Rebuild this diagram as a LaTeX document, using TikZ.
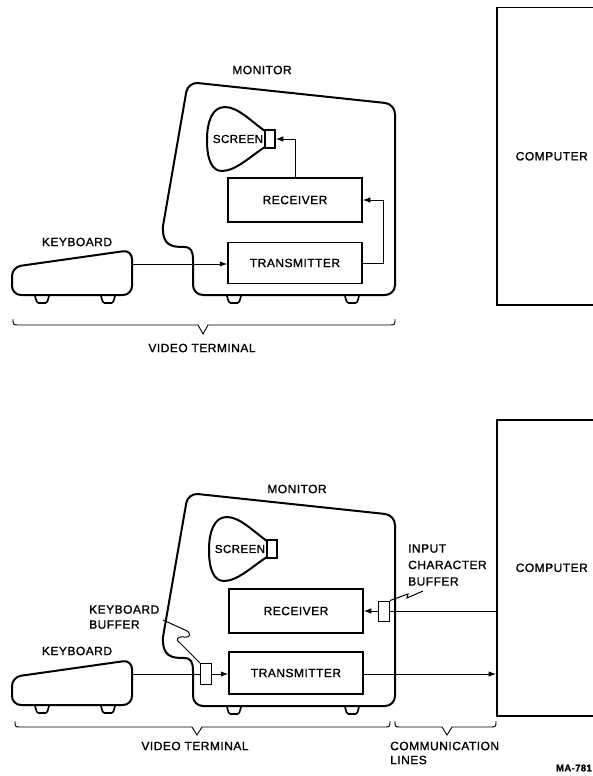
\documentclass[tikz,border=0pt]{standalone}
\usepackage{fontspec}
\setmainfont{Liberation Sans}[LetterSpace=4, FakeBold=1.2]
\usetikzlibrary{arrows.meta}
\newcommand{\captionsize}{\fontsize{12}{15}\selectfont}
\tikzset{
    body-line/.style = {line width=2pt, line join=round, line cap=round},
    unit-box/.style = {draw, line width=1.5pt, minimum width=134pt, minimum height=44pt, inner sep=0pt, font=\captionsize},
    neck-box/.style = {draw, line width=1.5pt, minimum width=10pt, minimum height=18pt, inner sep=0pt},
    buffer-box/.style = {draw, line width=1pt, minimum width=11pt, minimum height=21pt, inner sep=0pt},
    host-box/.style = {draw, line width=1.5pt, minimum width=110pt, minimum height=297pt, inner sep=0pt, font=\captionsize},
    link/.style = {line width=1pt},
    feed/.style = {link, -{Latex[length=7.5pt,width=5.5pt]}},
    caption/.style = {font=\captionsize, inner sep=0pt, align=left},
    brace-line/.style = {line width=0.9pt},
    pics/foot/.style = {code={\draw[line width=1.6pt, rounded corners=1.5pt] (-7,0) -- (-5,7) -- (5,7) -- (7,0);}},
    pics/keyboard/.style = {code={
        \draw[body-line, rounded corners=9pt] (12,295) -- (132,295) -- (132,250) -- (12,267) -- cycle;
        \pic at (42,296) {foot};
        \pic at (108,296) {foot};
    }},
    pics/monitor/.style = {code={
        \draw[body-line] (163,226) .. controls (162,246) and (172,247) .. (184,247)
            .. controls (191,247) and (193,251) .. (193,260)
            [rounded corners=10pt] -- (193,295) -- (395,295) -- (395,104) -- (188,82) -- (163,226);
        \pic at (234,296) {foot};
        \pic at (352,296) {foot};
    }},
    pics/crt/.style = {code={
        \draw[body-line] (265,131) .. controls (252,122) and (238,107) .. (225,107)
            .. controls (212,107) and (207,122) .. (207,140)
            .. controls (207,160) and (212,171) .. (222,171)
            .. controls (236,171) and (252,155) .. (265,147);
        \node[neck-box] (-neck) at (270,139) {};
        \node[caption, font=\fontsize{11.5}{14}\selectfont] at (238,139) {SCREEN};
    }},
}

\begin{document}
\begin{tikzpicture}[x=1pt, y=-1pt]
\useasboundingbox (0,0) rectangle (593,776);

% upper panel: terminal on its own
\pic at (0,0) {keyboard};
\pic at (0,0) {monitor};
\pic (top) at (0,0) {crt};
\node[unit-box] (top-receiver) at (295,200) {RECEIVER};
\node[unit-box, minimum height=41pt] (top-transmitter) at (295,263) {TRANSMITTER};
\node[host-box, anchor=north west] (top-computer) at (496,7) {COMPUTER};
\coordinate (top-cable) at (132,264);
\node[caption] (top-monitor-label) at (262,70) {MONITOR};
\node[caption] (top-keyboard-label) at (77,242) {KEYBOARD};

\draw[feed] (top-cable) -- (top-cable -| top-transmitter.west);
\draw[feed] (top-transmitter.east) -- ++(21,0) |- (top-receiver.east);
\draw[feed] (top-receiver.north) |- (top-neck.east);

\draw[brace-line] (13,319) .. controls (13,325) .. (19,325) -- (198,325) -- (203,334) -- (208,325) -- (389,325) .. controls (395,325) .. (395,319);
\node[caption] (top-terminal-label) at (202,348) {VIDEO TERMINAL};

% lower panel: with buffers and lines
\pic at (0,410) {keyboard};
\pic at (0,411) {monitor};
\pic (low) at (2,410) {crt};
\node[unit-box] (low-receiver) at (296,611) {RECEIVER};
\node[unit-box, minimum height=42pt] (low-transmitter) at (296,673) {TRANSMITTER};
\node[host-box, anchor=north west, minimum height=296pt] (low-computer) at (496,419) {COMPUTER};
\node[buffer-box] (kb-buffer) at (206,674) {};
\node[buffer-box, minimum height=20pt] (input-buffer) at (384,611) {};
\coordinate (low-cable) at (132,674);
\node[caption] (low-monitor-label) at (297,489) {MONITOR};
\node[caption] (low-keyboard-label) at (77,651) {KEYBOARD};
\node[caption, anchor=west] (kb-buffer-label) at (89,617) {KEYBOARD\\BUFFER};
\node[caption, anchor=west, font=\fontsize{12}{16.5}\selectfont] (input-buffer-label) at (408,565) {INPUT\\CHARACTER\\BUFFER};

\draw[link] (low-cable) -- (kb-buffer.west);
\draw[feed] (kb-buffer.east) -- (kb-buffer.east -| low-transmitter.west);
\draw[feed] (kb-buffer.east -| low-transmitter.east) -- (kb-buffer.east -| low-computer.west);
\draw[link] (low-computer.west |- input-buffer.east) -- (input-buffer.east);
\draw[feed] (input-buffer.west) -- (low-receiver.east);

% leaders to the buffers
\draw[link] (163,620) -- (185,630) .. controls (192,633) and (191,638) .. (184,637)
    .. controls (177,636) and (175,640) .. (180,643) -- (kb-buffer.north west);
\draw[link] (input-buffer.north east) -- (408,594) -- (407,598) -- (423,591);

\draw[brace-line] (15,721) .. controls (15,727) .. (21,727) -- (192,727) -- (197,735) -- (202,727) -- (384,727) .. controls (390,727) .. (390,721);
\draw[brace-line] (395,721) .. controls (395,727) .. (401,727) -- (442,727) -- (447,735) -- (452,727) -- (490,727) .. controls (496,727) .. (496,721);
\node[caption] (low-terminal-label) at (195,746) {VIDEO TERMINAL};
\node[caption, anchor=west, font=\fontsize{12}{14}\selectfont] (lines-label) at (390,753) {COMMUNICATION\\LINES};
\node[caption, anchor=east, font=\fontsize{9.5}{11}\selectfont\bfseries] (figure-tag) at (592,768) {MA-781};
\end{tikzpicture}
\end{document}
